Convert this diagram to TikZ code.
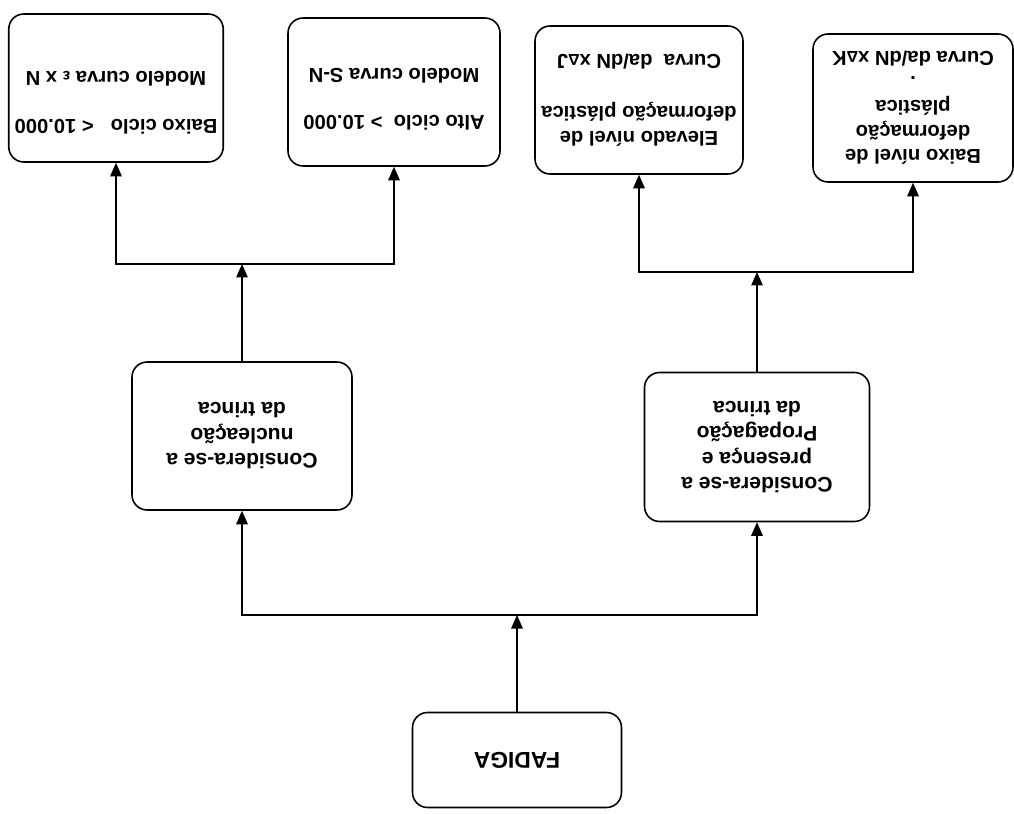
\documentclass[tikz,border=0pt]{standalone}
\usepackage{fontspec}
\setmainfont{Liberation Sans}
\usepackage{tikz}
\usetikzlibrary{arrows.meta, positioning, calc}

\begin{document}
\begin{tikzpicture}[x=0.02cm, y=-0.02cm,
  caixa/.style={draw, line width=0.9pt, rounded corners=0.3cm, rotate=180, align=center,
    font=\bfseries\fontsize{12}{14.5}\selectfont},
  topo/.style={caixa, font=\bfseries\fontsize{11.5}{14}\selectfont, minimum height=2.96cm},
  seta/.style={line width=0.8pt, -{Triangle[length=0.27cm, width=0.23cm]}}]
  \useasboundingbox (0,0) rectangle (1014,814);
  \node[caixa, minimum width=4.18cm, minimum height=1.9cm, font=\bfseries\fontsize{13}{15}\selectfont] (fadiga) at (517,760) {FADIGA};
  \node[caixa, minimum width=4.4cm, minimum height=2.96cm] (nucleacao) at (242,436) {Considera-se a\\nucleação\\da trinca};
  \node[caixa, minimum width=4.5cm, minimum height=2.98cm] (propagacao) at (757,447) {Considera-se a\\presença e\\Propagação\\da trinca};
  \node[topo, minimum width=4.24cm, text depth=0.6cm] (baixociclo) at (116,88) {Baixo ciclo \ \ < 10.000\\[13pt]Modelo curva {\fontsize{9}{10}\selectfont ε} x N};
  \node[topo, minimum width=4.24cm, text depth=0.3cm] (altociclo) at (394,92) {Alto ciclo \ > 10.000\\[13pt]Modelo curva S-N};
  \node[topo, minimum width=4.16cm] (elevado) at (639,100) {Elevado nível de\\deformação plástica\\[16pt]Curva \ da/dN x{\fontsize{9}{10}\selectfont Δ}J};
  \node[topo, minimum width=4.0cm] (baixonivel) at (913,108) {Baixo nível de\\deformação\\plástica\\.\\Curva da/dN x{\fontsize{9}{10}\selectfont Δ}K};
  % barramentos
  \coordinate (busA) at (517,615);
  \coordinate (busB) at (242,264);
  \coordinate (busC) at (757,272);
  \draw[seta] (fadiga) -- (busA);
  \draw[seta] (busA) -| (nucleacao);
  \draw[seta] (busA) -| (propagacao);
  \draw[seta] (nucleacao) -- (busB);
  \draw[seta] (busB) -| (baixociclo);
  \draw[seta] (busB) -| (altociclo);
  \draw[seta] (propagacao) -- (busC);
  \draw[seta] (busC) -| (elevado);
  \draw[seta] (busC) -| (baixonivel);
\end{tikzpicture}
\end{document}
